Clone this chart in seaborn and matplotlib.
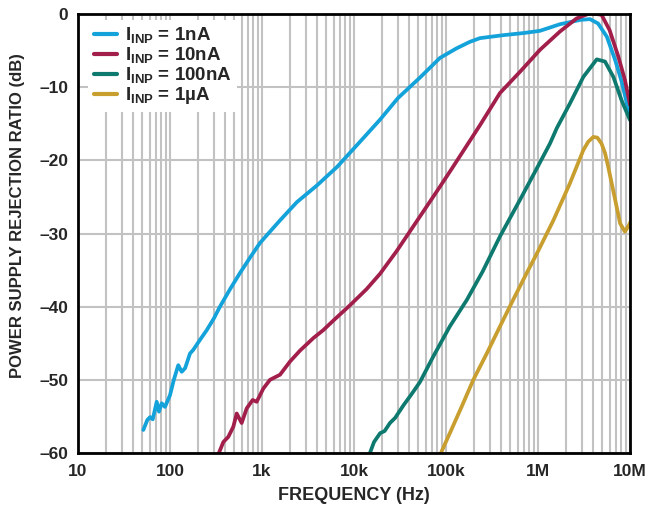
import numpy as np
import pandas as pd
import matplotlib
matplotlib.use("Agg")
import matplotlib.pyplot as plt
from matplotlib.ticker import LogLocator, FixedLocator, FixedFormatter, NullFormatter
import seaborn as sns

# ---- data ----
blue_f = [51.3, 56.6, 60.7, 64.9, 71.7, 75.9, 81.2, 88.2, 100, 110, 123, 134, 146, 165, 179,
          210, 251, 300, 349, 450, 576, 750, 950, 1250, 1570, 2400, 3980, 6540, 10800, 19000,
          30000, 52000, 86000, 130000, 182000, 234000, 415000, 700000, 1.05e6, 1.73e6,
          2.9e6, 3.67e6, 4.5e6, 5.6e6, 6.9e6, 8.1e6, 9.6e6, 1.0e7]
blue_db = [-56.85, -55.5, -55.1, -55.4, -53.0, -54.35, -53.2, -53.7, -52.1, -50.0, -48.0, -48.9,
           -48.4, -46.4, -45.9, -44.6, -43.2, -41.6, -40.0, -37.6, -35.4, -33.2, -31.3, -29.6,
           -28.2, -25.7, -23.4, -20.9, -17.9, -14.5, -11.5, -8.7, -6.0, -4.7, -3.8, -3.3, -2.9,
           -2.6, -2.3, -1.4, -0.8, -0.7, -1.3, -3.1, -6.3, -9.2, -13.1, -14.2]

red_f = [340, 380, 430, 488, 531, 601, 682, 792, 875, 1033, 1220, 1570, 2015, 2590, 3610, 4640,
         5960, 9060, 13700, 19200, 29100, 40600, 61700, 86000, 119000, 234000, 386000, 637000,
         1.05e6, 1.73e6, 2.63e6, 3.67e6, 4.9e6, 6.0e6, 7.46e6, 8.8e6, 1.0e7]
red_db = [-60.0, -58.5, -57.8, -56.4, -54.6, -55.9, -53.9, -52.75, -53.0, -51.2, -50.0, -49.3,
          -47.5, -46.0, -44.3, -43.2, -41.9, -39.8, -37.6, -35.5, -32.4, -29.7, -26.3, -23.6,
          -20.9, -15.2, -10.8, -7.9, -4.9, -2.4, -0.6, 0.1, -0.1, -2.2, -5.8, -9.0, -12.4]

teal_f = [14900, 16500, 19200, 21500, 24600, 28000, 34400, 42000, 52100, 72800, 110000, 168000,
          250000, 386000, 637000, 1.0e6, 1.35e6, 1.6e6, 2.23e6, 3.11e6, 4.35e6, 5.35e6, 6.6e6,
          8.1e6, 1.0e7]
teal_db = [-60.0, -58.5, -57.3, -57.0, -55.9, -55.2, -53.5, -52.0, -50.3, -46.8, -42.7, -39.1,
           -35.2, -30.4, -25.4, -20.8, -17.7, -15.6, -12.2, -8.6, -6.2, -6.5, -8.6, -11.8, -14.5]

gold_f = [88000, 110000, 150000, 198000, 280000, 386000, 540000, 754000, 967000, 1.47e6, 2.23e6,
          3.11e6, 3.52e6, 4.0e6, 4.42e6, 4.9e6, 5.35e6, 5.8e6, 6.9e6, 7.8e6, 8.8e6, 9.8e6, 1.0e7]
gold_db = [-60.0, -57.3, -53.5, -50.0, -46.3, -42.7, -39.0, -35.4, -32.8, -28.2, -23.1, -18.6,
           -17.45, -16.8, -16.9, -17.7, -19.0, -20.9, -25.4, -28.6, -29.75, -28.8, -28.5]

series_labels = [r"I$_{\mathbf{INP}}$ = 1nA", r"I$_{\mathbf{INP}}$ = 10nA",
                 r"I$_{\mathbf{INP}}$ = 100nA", r"I$_{\mathbf{INP}}$ = 1µA"]
series_colors = ["#13A2DA", "#A31F4B", "#0E7A6F", "#C89E2F"]

x_ticks = [10, 100, 1e3, 1e4, 1e5, 1e6, 1e7]
x_ticklabels = ["10", "100", "1k", "10k", "100k", "1M", "10M"]
y_ticks = [-60, -50, -40, -30, -20, -10, 0]
y_ticklabels = ["–60", "–50", "–40", "–30", "–20", "–10", "0"]

x_label = "FREQUENCY (Hz)"
y_label = "POWER SUPPLY REJECTION RATIO (dB)"

# ---- style ----
sns.set_style("white")
plt.rcParams["font.family"] = ["Liberation Sans", "DejaVu Sans"]
plt.rcParams["font.weight"] = "bold"
plt.rcParams["mathtext.fontset"] = "custom"
plt.rcParams["mathtext.rm"] = "Liberation Sans:bold"
plt.rcParams["mathtext.bf"] = "Liberation Sans:bold"
plt.rcParams["mathtext.it"] = "Liberation Sans:bold"

fig = plt.figure(figsize=(6.52, 5.12), dpi=100)
ax = fig.add_axes([78 / 652, 1 - 453 / 512, (630 - 78) / 652, (453 - 14) / 512])

frames = []
for f, d, lab in zip([blue_f, red_f, teal_f, gold_f],
                     [blue_db, red_db, teal_db, gold_db], series_labels):
    frames.append(pd.DataFrame({"freq": f, "db": d, "series": lab}))
df = pd.concat(frames, ignore_index=True)

sns.lineplot(data=df, x="freq", y="db", hue="series", hue_order=series_labels,
             palette=series_colors, estimator=None, sort=False, linewidth=2.7,
             ax=ax, zorder=3)
for ln in ax.get_lines():
    ln.set_solid_joinstyle("round")
    ln.set_solid_capstyle("round")

ax.set_xscale("log")
ax.set_xlim(10, 1e7)
ax.set_ylim(-60, 0)

ax.xaxis.set_major_locator(FixedLocator(x_ticks))
ax.xaxis.set_major_formatter(FixedFormatter(x_ticklabels))
ax.xaxis.set_minor_locator(LogLocator(base=10, subs=range(2, 10), numticks=20))
ax.xaxis.set_minor_formatter(NullFormatter())
ax.yaxis.set_major_locator(FixedLocator(y_ticks))
ax.yaxis.set_major_formatter(FixedFormatter(y_ticklabels))

ax.tick_params(axis="both", which="both", length=0, labelsize=12.5)
ax.tick_params(axis="x", pad=8)
ax.tick_params(axis="y", pad=7)
for lbl in ax.get_xticklabels() + ax.get_yticklabels():
    lbl.set_fontweight("bold")

ax.grid(which="both", axis="x", color="#C2C2C2", linewidth=1.5)
ax.grid(which="major", axis="y", color="#C2C2C2", linewidth=1.5)
ax.set_axisbelow(True)

for sp in ax.spines.values():
    sp.set_linewidth(2.0)
    sp.set_color("black")
    sp.set_zorder(5)

ax.set_xlabel(x_label, fontsize=13, fontweight="bold", labelpad=6)
ax.set_ylabel(y_label, fontsize=12, fontweight="bold")
ax.yaxis.set_label_coords(-0.096, 0.54)

leg = ax.legend(loc="upper left", bbox_to_anchor=(0.008, 1.0), fontsize=13.5,
                frameon=True, fancybox=False, framealpha=1, edgecolor="white",
                handlelength=1.25, handletextpad=0.4, labelspacing=0.0,
                borderpad=0.3, borderaxespad=0.3)
leg.get_frame().set_linewidth(0)
leg.set_zorder(4)
for t in leg.get_texts():
    t.set_fontweight("bold")
for h in leg.get_lines():
    h.set_linewidth(3)

fig.savefig("out.png", dpi=100)
